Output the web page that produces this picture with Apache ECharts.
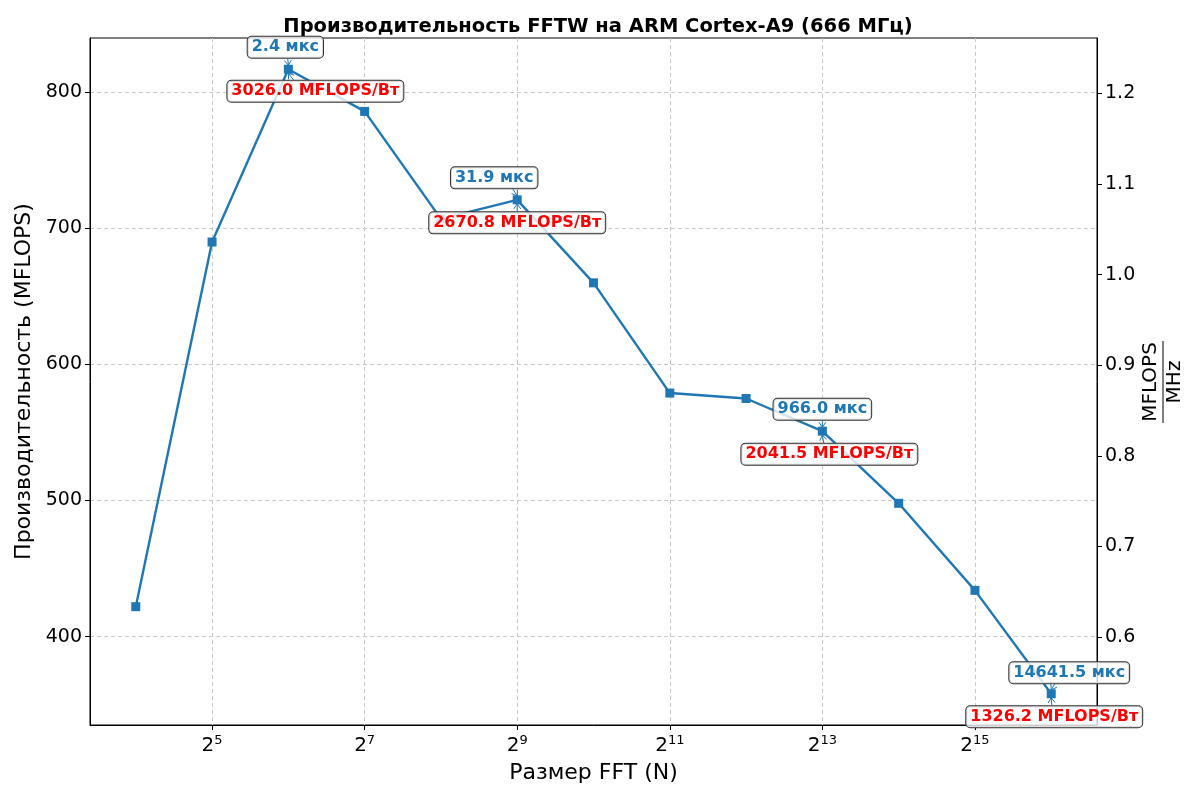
<!DOCTYPE html>
<html><head><meta charset="utf-8">
<script src="https://cdn.jsdelivr.net/npm/echarts@6/dist/echarts.min.js"></script>
<style>html,body{margin:0;padding:0;background:#fff}#c{width:1200px;height:800px}</style>
</head><body><div id="c"></div>
<script>
// ---- data ----
const fftSizes = [16, 32, 64, 128, 256, 512, 1024, 2048, 4096, 8192, 16384, 32768, 65536];
const mflops = [422, 690, 817, 786, 707, 721, 660, 579, 575, 551, 498, 434, 358];
const clockMHz = 666;
const annotatedN = [64, 512, 8192, 65536];
const timeUs = [2.4, 31.9, 966.0, 14641.5];
const mflopsPerWatt = [3026.0, 2670.8, 2041.5, 1326.2];
const xTickExp = [5, 7, 9, 11, 13, 15];
const yTicks = [400, 500, 600, 700, 800];
const yRightTicks = [0.6, 0.7, 0.8, 0.9, 1.0, 1.1, 1.2];
const titleText = 'Производительность FFTW на ARM Cortex-A9 (666 МГц)';
const xName = 'Размер FFT (N)';
const yName = 'Производительность (MFLOPS)';

// ---- layout / style ----
const FONT = 'DejaVu Sans';
const BLUE = '#1f77b4', RED = '#ff0000';
const blueOffsets = [[-3, -22], [-23, -22], [0, -22], [18, -21]];
const redOffsets = [[27, 22], [0, 23], [7, 23], [3, 23]];

const xs = fftSizes.map(n => Math.log2(n));
const yMinData = Math.min(...mflops), yMaxData = Math.max(...mflops);
const yPad = (yMaxData - yMinData) * 0.05;
const yMin = yMinData - yPad, yMax = yMaxData + yPad;
const xPad = (xs[xs.length - 1] - xs[0]) * 0.05;
const xMin = xs[0] - xPad, xMax = xs[xs.length - 1] + xPad;

const chart = echarts.init(document.getElementById('c'), null, {renderer: 'canvas'});
const grid = {left: 90, right: 103, top: 38, bottom: 75};

const gridLine = {show: true, lineStyle: {color: '#c8c8c8', type: [4, 3], width: 1}};
const labelCommon = {fontFamily: FONT, fontSize: 19, color: '#000'};

function boxLabel(text, color, off) {
  return {
    show: true, position: 'inside', offset: off, formatter: text,
    fontFamily: FONT, fontSize: 16, fontWeight: 'bold', color: color,
    backgroundColor: 'rgba(255,255,255,0.8)', borderColor: '#333', borderWidth: 1,
    borderRadius: 4, padding: [3, 4, 2, 4]
  };
}

const markData = [];
annotatedN.forEach((n, i) => {
  const idx = fftSizes.indexOf(n);
  const c = [Math.log2(n), mflops[idx]];
  markData.push({coord: c, label: boxLabel(timeUs[i].toFixed(1) + ' мкс', BLUE, blueOffsets[i])});
  markData.push({coord: c, label: boxLabel(mflopsPerWatt[i].toFixed(1) + ' MFLOPS/Вт', RED, redOffsets[i])});
});

chart.setOption({
  animation: false,
  backgroundColor: '#fff',
  title: {text: titleText, left: 593, top: 12, textAlign: 'center',
    textStyle: {fontFamily: FONT, fontSize: 19.5, fontWeight: 'bold', color: '#000'}},
  grid: Object.assign({show: true, borderColor: '#000', borderWidth: 1}, grid),
  xAxis: {
    type: 'value', min: xMin, max: xMax,
    name: xName, nameLocation: 'middle', nameGap: 37,
    nameTextStyle: {fontFamily: FONT, fontSize: 22, color: '#000'},
    axisLine: {show: true, lineStyle: {color: '#000'}},
    axisTick: {show: true, length: 5, lineStyle: {color: '#000'}, customValues: xTickExp},
    axisLabel: Object.assign({}, labelCommon, {
      customValues: xTickExp, margin: 9,
      formatter: v => '{b|2}{s|' + v + '}',
      rich: {
        b: {fontFamily: FONT, fontSize: 20, color: '#000', lineHeight: 22, verticalAlign: 'bottom'},
        s: {fontFamily: FONT, fontSize: 13, color: '#000', lineHeight: 18, verticalAlign: 'top'}
      }
    }),
    splitLine: gridLine
  },
  yAxis: [{
    type: 'value', min: yMin, max: yMax,
    name: yName, nameLocation: 'middle', nameGap: 53,
    nameTextStyle: {fontFamily: FONT, fontSize: 22, color: '#000'},
    axisLine: {show: true, lineStyle: {color: '#000'}},
    axisTick: {show: true, length: 5, lineStyle: {color: '#000'}, customValues: yTicks},
    axisLabel: Object.assign({}, labelCommon, {customValues: yTicks, margin: 8}),
    splitLine: gridLine
  }, {
    type: 'value', position: 'right', min: yMin / clockMHz, max: yMax / clockMHz,
    axisLine: {show: true, lineStyle: {color: '#000'}},
    axisTick: {show: true, length: 5, lineStyle: {color: '#000'}, customValues: yRightTicks},
    axisLabel: Object.assign({}, labelCommon, {customValues: yRightTicks, margin: 8,
      formatter: v => v.toFixed(1)}),
    splitLine: {show: false}
  }],
  series: [{
    type: 'line',
    data: xs.map((x, i) => [x, mflops[i]]),
    symbol: 'rect', symbolSize: 9,
    itemStyle: {color: BLUE},
    lineStyle: {color: BLUE, width: 2.4},
    z: 3,
    markPoint: {
      symbol: 'circle', symbolSize: 1, itemStyle: {color: 'rgba(0,0,0,0)'},
      silent: true, z: 10,
      data: markData
    }
  }]
});

// arrows + right axis fractional name
const gfx = [];
annotatedN.forEach((n, i) => {
  const idx = fftSizes.indexOf(n);
  const p = chart.convertToPixel({gridIndex: 0}, [Math.log2(n), mflops[idx]]);
  const arrows = [
    {from: [p[0] + blueOffsets[i][0] * 0.2, p[1] + blueOffsets[i][1] + 11], to: [p[0], p[1] - 4], color: BLUE},
    {from: [p[0] + redOffsets[i][0] * 0.2, p[1] + redOffsets[i][1] - 11], to: [p[0], p[1] + 4], color: BLUE}
  ];
  arrows.forEach(a => {
    const dx = a.to[0] - a.from[0], dy = a.to[1] - a.from[1];
    const len = Math.sqrt(dx * dx + dy * dy) || 1;
    const ux = dx / len, uy = dy / len;
    const h = 5, w = 3.5;
    gfx.push({type: 'line', z: 20, silent: true,
      shape: {x1: a.from[0], y1: a.from[1], x2: a.to[0], y2: a.to[1]},
      style: {stroke: a.color, lineWidth: 1}});
    gfx.push({type: 'polyline', z: 20, silent: true,
      shape: {points: [
        [a.to[0] - ux * h - uy * w, a.to[1] - uy * h + ux * w],
        a.to,
        [a.to[0] - ux * h + uy * w, a.to[1] - uy * h - ux * w]]},
      style: {stroke: a.color, lineWidth: 1, fill: null}});
  });
});
gfx.push({
  type: 'group', x: 1163, y: 382, rotation: Math.PI / 2, silent: true,
  children: [
    {type: 'text', x: 0, y: -12, style: {text: 'MFLOPS', fontFamily: FONT, fontSize: 20, fill: '#000', align: 'center', verticalAlign: 'middle'}},
    {type: 'line', shape: {x1: -41, y1: 0, x2: 41, y2: 0}, style: {stroke: '#000', lineWidth: 1}},
    {type: 'text', x: 0, y: 12, style: {text: 'MHz', fontFamily: FONT, fontSize: 20, fill: '#000', align: 'center', verticalAlign: 'middle'}}
  ]
});
chart.setOption({graphic: gfx});
</script>
</body></html>
